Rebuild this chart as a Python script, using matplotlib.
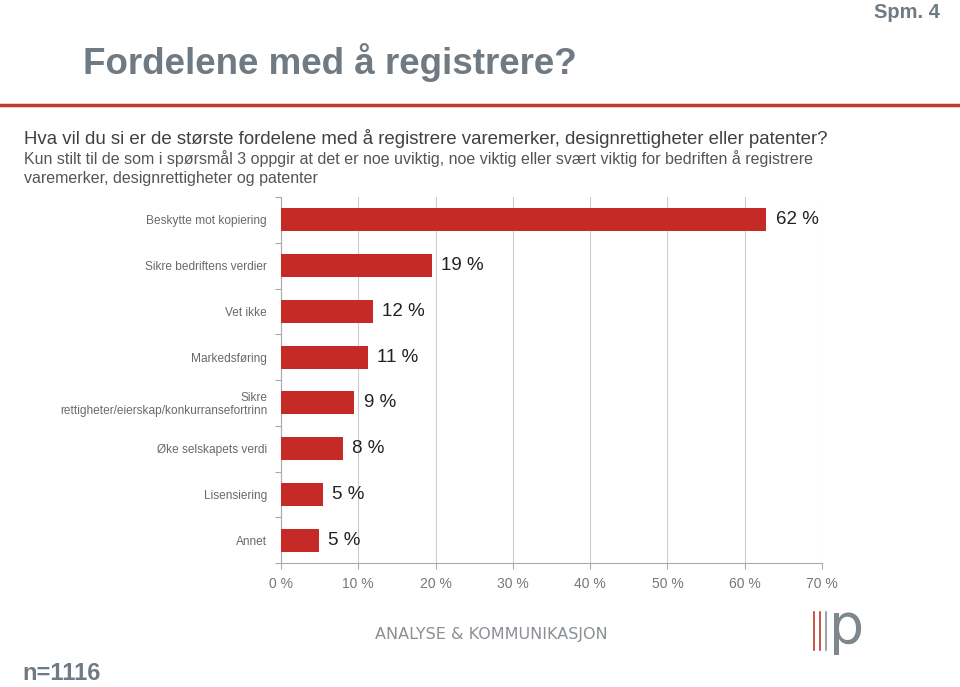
import matplotlib.pyplot as plt
import numpy as np

plt.rcParams['font.family'] = ['Liberation Sans', 'DejaVu Sans']

categories = ['Beskytte mot kopiering', 'Sikre bedriftens verdier', 'Vet ikke',
              'Markedsføring', 'Sikre\nrettigheter/eierskap/konkurransefortrinn',
              'Øke selskapets verdi', 'Lisensiering', 'Annet']
values = [62.8, 19.5, 11.9, 11.2, 9.5, 8.0, 5.4, 4.9]
labels = ['62 %', '19 %', '12 %', '11 %', '9 %', '8 %', '5 %', '5 %']
xticks = [0, 10, 20, 30, 40, 50, 60, 70]

red = '#c62a26'
gray = '#707a82'

fig = plt.figure(figsize=(9.6, 6.87), dpi=100)
ax = fig.add_axes([281 / 960, 1 - 563 / 687, 541 / 960, 366 / 687])

y = np.arange(len(categories))
ax.barh(y, values, height=0.5, color=red, zorder=3)
for yi, v, lab in zip(y, values, labels):
    ax.text(v + 1.2, yi, lab, va='center', ha='left', fontsize=13.5, color='#222222')

ax.set_xlim(0, 70)
ax.set_ylim(len(categories) - 0.5, -0.5)
ax.set_xticks(xticks)
ax.set_xticklabels([f'{t} %' for t in xticks], fontsize=10, color='#777777')
ax.set_yticks(y)
ax.set_yticklabels(categories, fontsize=8.6, color='#6a6a6a', linespacing=1.1)
ax.set_yticks(np.arange(len(categories) + 1) - 0.5, minor=True)
ax.tick_params(axis='y', which='major', length=0, pad=10)
ax.tick_params(axis='y', which='minor', length=4, color='#aaaaaa', width=0.8)
ax.tick_params(axis='x', length=4, color='#aaaaaa', width=0.8, pad=6)
ax.grid(axis='x', color='#cccccc', linewidth=0.8, zorder=0)
for s in ['top', 'right']:
    ax.spines[s].set_visible(False)
for s in ['left', 'bottom']:
    ax.spines[s].set_color('#aaaaaa')
    ax.spines[s].set_linewidth(0.8)

fig.text(940 / 960, 1 - 13 / 687, 'Spm. 4', ha='right', va='center',
         fontsize=14.5, fontweight='bold', color=gray)
fig.text(83 / 960, 1 - 62 / 687, 'Fordelene med å registrere?', ha='left', va='center',
         fontsize=26.5, fontweight='bold', color=gray)
fig.add_artist(plt.Line2D([0, 1], [1 - 105 / 687] * 2, color='#c0392b', linewidth=2.5))
fig.text(24 / 960, 1 - 138 / 687,
         'Hva vil du si er de største fordelene med å registrere varemerker, designrettigheter eller patenter?',
         ha='left', va='center', fontsize=13.4, color='#404040')
fig.text(24 / 960, 1 - 168 / 687,
         'Kun stilt til de som i spørsmål 3 oppgir at det er noe uviktig, noe viktig eller svært viktig for bedriften å registrere\nvaremerker, designrettigheter og patenter',
         ha='left', va='center', fontsize=11.5, color='#555555', linespacing=1.35)

fig.text(375 / 960, 1 - 634 / 687, 'ANALYSE & KOMMUNIKASJON', ha='left', va='center',
         fontsize=11.5, color='#8a8f94', family=['DejaVu Sans'])
for xx, cc in [(814, '#c0392b'), (820, '#c0392b'), (826, '#8a939a')]:
    fig.add_artist(plt.Line2D([xx / 960] * 2, [1 - 650 / 687, 1 - 612 / 687],
                              color=cc, linewidth=1.2))
fig.text(829 / 960, 1 - 628 / 687, 'p', ha='left', va='center', fontsize=40,
         color='#7d878e', family=['DejaVu Sans'])

fig.text(22 / 960, 1 - 673 / 687, 'n=1116', ha='left', va='center',
         fontsize=17, fontweight='bold', color=gray)

fig.savefig('out.png', dpi=100)
